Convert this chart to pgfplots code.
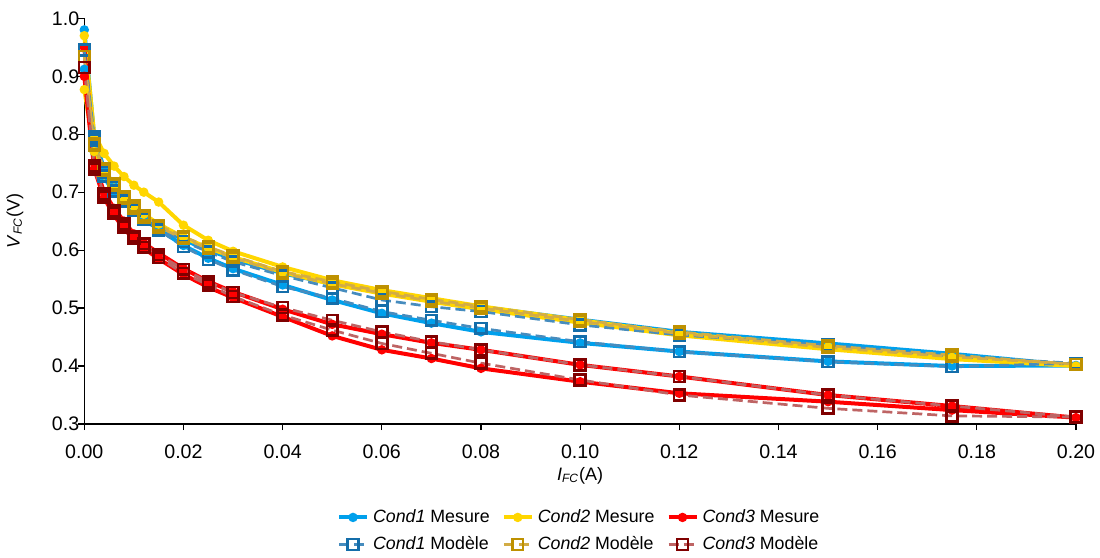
\documentclass[border=0pt]{standalone}
\usepackage{fontspec}
\setmainfont{Liberation Sans}
\usepackage{pgfplots}
\pgfplotsset{compat=1.18}
\definecolor{cOneM}{RGB}{0,160,236}
\definecolor{cTwoM}{RGB}{255,214,0}
\definecolor{cThreeM}{RGB}{255,0,0}
\definecolor{cOneL}{RGB}{70,140,190}
\definecolor{cOneK}{RGB}{20,110,170}
\definecolor{cTwoL}{RGB}{210,172,70}
\definecolor{cTwoK}{RGB}{190,145,0}
\definecolor{cThreeL}{RGB}{190,100,100}
\definecolor{cThreeK}{RGB}{128,0,0}
\begin{document}
\begin{tikzpicture}
\useasboundingbox (-42.15pt,-67pt) rectangle (507.85pt,212pt);
\begin{axis}[
  at={(0pt,0pt)}, anchor=south west,
  scale only axis, width=495.85pt, height=202.85pt,
  xmin=0, xmax=0.2, ymin=0.3, ymax=1.0,
  axis lines=left,
  axis line style={-, line width=0.6pt, black},
  tick align=outside, major tick length=3pt,
  tick style={line width=0.6pt, black},
  xtick={0,0.02,0.04,0.06,0.08,0.10,0.12,0.14,0.16,0.18,0.20},
  xticklabels={0.00,0.02,0.04,0.06,0.08,0.10,0.12,0.14,0.16,0.18,0.20},
  ytick={0.3,0.4,0.5,0.6,0.7,0.8,0.9,1.0},
  yticklabels={0.3,0.4,0.5,0.6,0.7,0.8,0.9,1.0},
  tick label style={font=\fontsize{9.8}{11}\selectfont},
  yticklabel style={xshift=4pt},
  xticklabel style={yshift=-4pt},
  /pgf/number format/assume math mode=true,
  xlabel={\textit{I}\textsubscript{\textit{FC}}(A)},
  ylabel={\textit{V}\textsubscript{\textit{FC}}(V)},
  label style={font=\fontsize{9}{10}\selectfont},
  xlabel style={at={(axis description cs:0.5,-0.128)}, anchor=center},
  ylabel style={at={(axis description cs:-0.0698,0.5)}, anchor=center},
  clip=false,
  legend columns=3,
  legend style={at={(axis description cs:0.5,-0.19)}, anchor=north, draw=none,
    font=\fontsize{8.9}{10}\selectfont, column sep=0pt, row sep=1.5pt,
    /tikz/every even column/.append style={column sep=4pt}},
  legend cell align=left,
  legend image code/.code={\draw[mark repeat=2,mark phase=2,#1] plot coordinates {(0pt,0pt) (7pt,0pt) (14pt,0pt)};},
]
% Cond1 Mesure
\addplot[color=cOneM, line width=2pt, mark=*, mark size=1.3pt] coordinates {
(0,0.912) (0.002,0.77) (0.004,0.725) (0.006,0.70) (0.008,0.682) (0.010,0.667) (0.012,0.653) (0.015,0.636) (0.020,0.608) (0.025,0.586) (0.030,0.568) (0.040,0.540) (0.050,0.514) (0.060,0.491) (0.070,0.474) (0.080,0.459) (0.100,0.440) (0.120,0.425) (0.150,0.408) (0.175,0.400) (0.200,0.401)
(0.175,0.421) (0.150,0.439) (0.120,0.459) (0.100,0.480) (0.080,0.502) (0.070,0.514) (0.060,0.527) (0.050,0.542) (0.040,0.560) (0.030,0.585) (0.025,0.600) (0.020,0.618) (0.015,0.643) (0.012,0.660) (0.010,0.674) (0.008,0.690) (0.006,0.710) (0.004,0.740) (0.002,0.795) (0,0.98)
};
\addlegendentry{\textit{Cond1} Mesure}
% Cond2 Mesure
\addplot[color=cTwoM, line width=2pt, mark=*, mark size=1.3pt] coordinates {
(0,0.877) (0.002,0.77) (0.004,0.73) (0.006,0.707) (0.008,0.69) (0.010,0.676) (0.012,0.662) (0.015,0.645) (0.020,0.622) (0.025,0.604) (0.030,0.588) (0.040,0.562) (0.050,0.541) (0.060,0.525) (0.070,0.511) (0.080,0.498) (0.100,0.475) (0.120,0.453) (0.150,0.429) (0.175,0.412) (0.200,0.400)
(0.175,0.415) (0.150,0.433) (0.120,0.456) (0.100,0.479) (0.080,0.503) (0.070,0.517) (0.060,0.531) (0.050,0.548) (0.040,0.571) (0.030,0.598) (0.025,0.617) (0.020,0.643) (0.015,0.683) (0.012,0.700) (0.010,0.712) (0.008,0.727) (0.006,0.745) (0.004,0.767) (0.002,0.80) (0,0.97)
};
\addlegendentry{\textit{Cond2} Mesure}
% Cond3 Mesure
\addplot[color=cThreeM, line width=2pt, mark=*, mark size=1.3pt] coordinates {
(0,0.90) (0.002,0.74) (0.004,0.69) (0.006,0.66) (0.008,0.637) (0.010,0.619) (0.012,0.603) (0.015,0.585) (0.020,0.558) (0.025,0.536) (0.030,0.518) (0.040,0.485) (0.050,0.452) (0.060,0.428) (0.070,0.413) (0.080,0.396) (0.100,0.373) (0.120,0.353) (0.150,0.3385) (0.175,0.324) (0.200,0.311)
(0.175,0.331) (0.150,0.350) (0.120,0.382) (0.100,0.402) (0.080,0.428) (0.070,0.440) (0.060,0.455) (0.050,0.472) (0.040,0.498) (0.030,0.528) (0.025,0.546) (0.020,0.568) (0.015,0.595) (0.012,0.612) (0.010,0.628) (0.008,0.65) (0.006,0.672) (0.004,0.70) (0.002,0.75) (0,0.95)
};
\addlegendentry{\textit{Cond3} Mesure}
% Cond1 Modele
\addplot[color=cOneL, line width=1.35pt, dash pattern=on 5pt off 2.5pt, mark=square, mark size=2.7pt, mark options={solid, draw=cOneK, line width=1.3pt, fill=none}] coordinates {
(0,0.945) (0.002,0.79) (0.004,0.728) (0.006,0.702) (0.008,0.685) (0.010,0.669) (0.012,0.653) (0.015,0.635) (0.020,0.606) (0.025,0.584) (0.030,0.566) (0.040,0.537) (0.050,0.517) (0.060,0.494) (0.070,0.479) (0.080,0.465) (0.100,0.442) (0.120,0.4247) (0.150,0.4075) (0.175,0.399) (0.200,0.4047)
(0.175,0.417) (0.150,0.436) (0.120,0.4536) (0.100,0.471) (0.080,0.494) (0.070,0.5024) (0.060,0.514) (0.050,0.535) (0.040,0.556) (0.030,0.58) (0.025,0.597) (0.020,0.615) (0.015,0.640) (0.012,0.657) (0.010,0.672) (0.008,0.689) (0.006,0.708) (0.004,0.735) (0.002,0.795) (0,0.945)
};
\addlegendentry{\textit{Cond1} Modèle}
% Cond2 Modele
\addplot[color=cTwoL, line width=1.35pt, dash pattern=on 5pt off 2.5pt, mark=square, mark size=2.7pt, mark options={solid, draw=cTwoK, line width=1.3pt, fill=none}] coordinates {
(0,0.934) (0.002,0.784) (0.004,0.741) (0.006,0.715) (0.008,0.692) (0.010,0.676) (0.012,0.660) (0.015,0.643) (0.020,0.623) (0.025,0.606) (0.030,0.590) (0.040,0.563) (0.050,0.5455) (0.060,0.529) (0.070,0.515) (0.080,0.503) (0.100,0.480) (0.120,0.459) (0.150,0.435) (0.175,0.419) (0.200,0.403)
(0.175,0.416) (0.150,0.432) (0.120,0.456) (0.100,0.477) (0.080,0.5) (0.070,0.512) (0.060,0.526) (0.050,0.542) (0.040,0.56) (0.030,0.587) (0.025,0.603) (0.020,0.62) (0.015,0.64) (0.012,0.657) (0.010,0.673) (0.008,0.689) (0.006,0.712) (0.004,0.738) (0.002,0.781) (0,0.934)
};
\addlegendentry{\textit{Cond2} Modèle}
% Cond3 Modele
\addplot[color=cThreeL, line width=1.35pt, dash pattern=on 5pt off 2.5pt, mark=square, mark size=2.7pt, mark options={solid, draw=cThreeK, line width=1.3pt, fill=none}] coordinates {
(0,0.915) (0.002,0.74) (0.004,0.692) (0.006,0.664) (0.008,0.64) (0.010,0.62) (0.012,0.605) (0.015,0.587) (0.020,0.56) (0.025,0.540) (0.030,0.52) (0.040,0.488) (0.050,0.462) (0.060,0.439) (0.070,0.422) (0.080,0.405) (0.100,0.376) (0.120,0.350) (0.150,0.327) (0.175,0.314) (0.200,0.312)
(0.175,0.331) (0.150,0.350) (0.120,0.382) (0.100,0.402) (0.080,0.428) (0.070,0.442) (0.060,0.459) (0.050,0.479) (0.040,0.501) (0.030,0.527) (0.025,0.545) (0.020,0.567) (0.015,0.592) (0.012,0.611) (0.010,0.624) (0.008,0.645) (0.006,0.668) (0.004,0.697) (0.002,0.745) (0,0.915)
};
\addlegendentry{\textit{Cond3} Modèle}
\end{axis}
\end{tikzpicture}
\end{document}
